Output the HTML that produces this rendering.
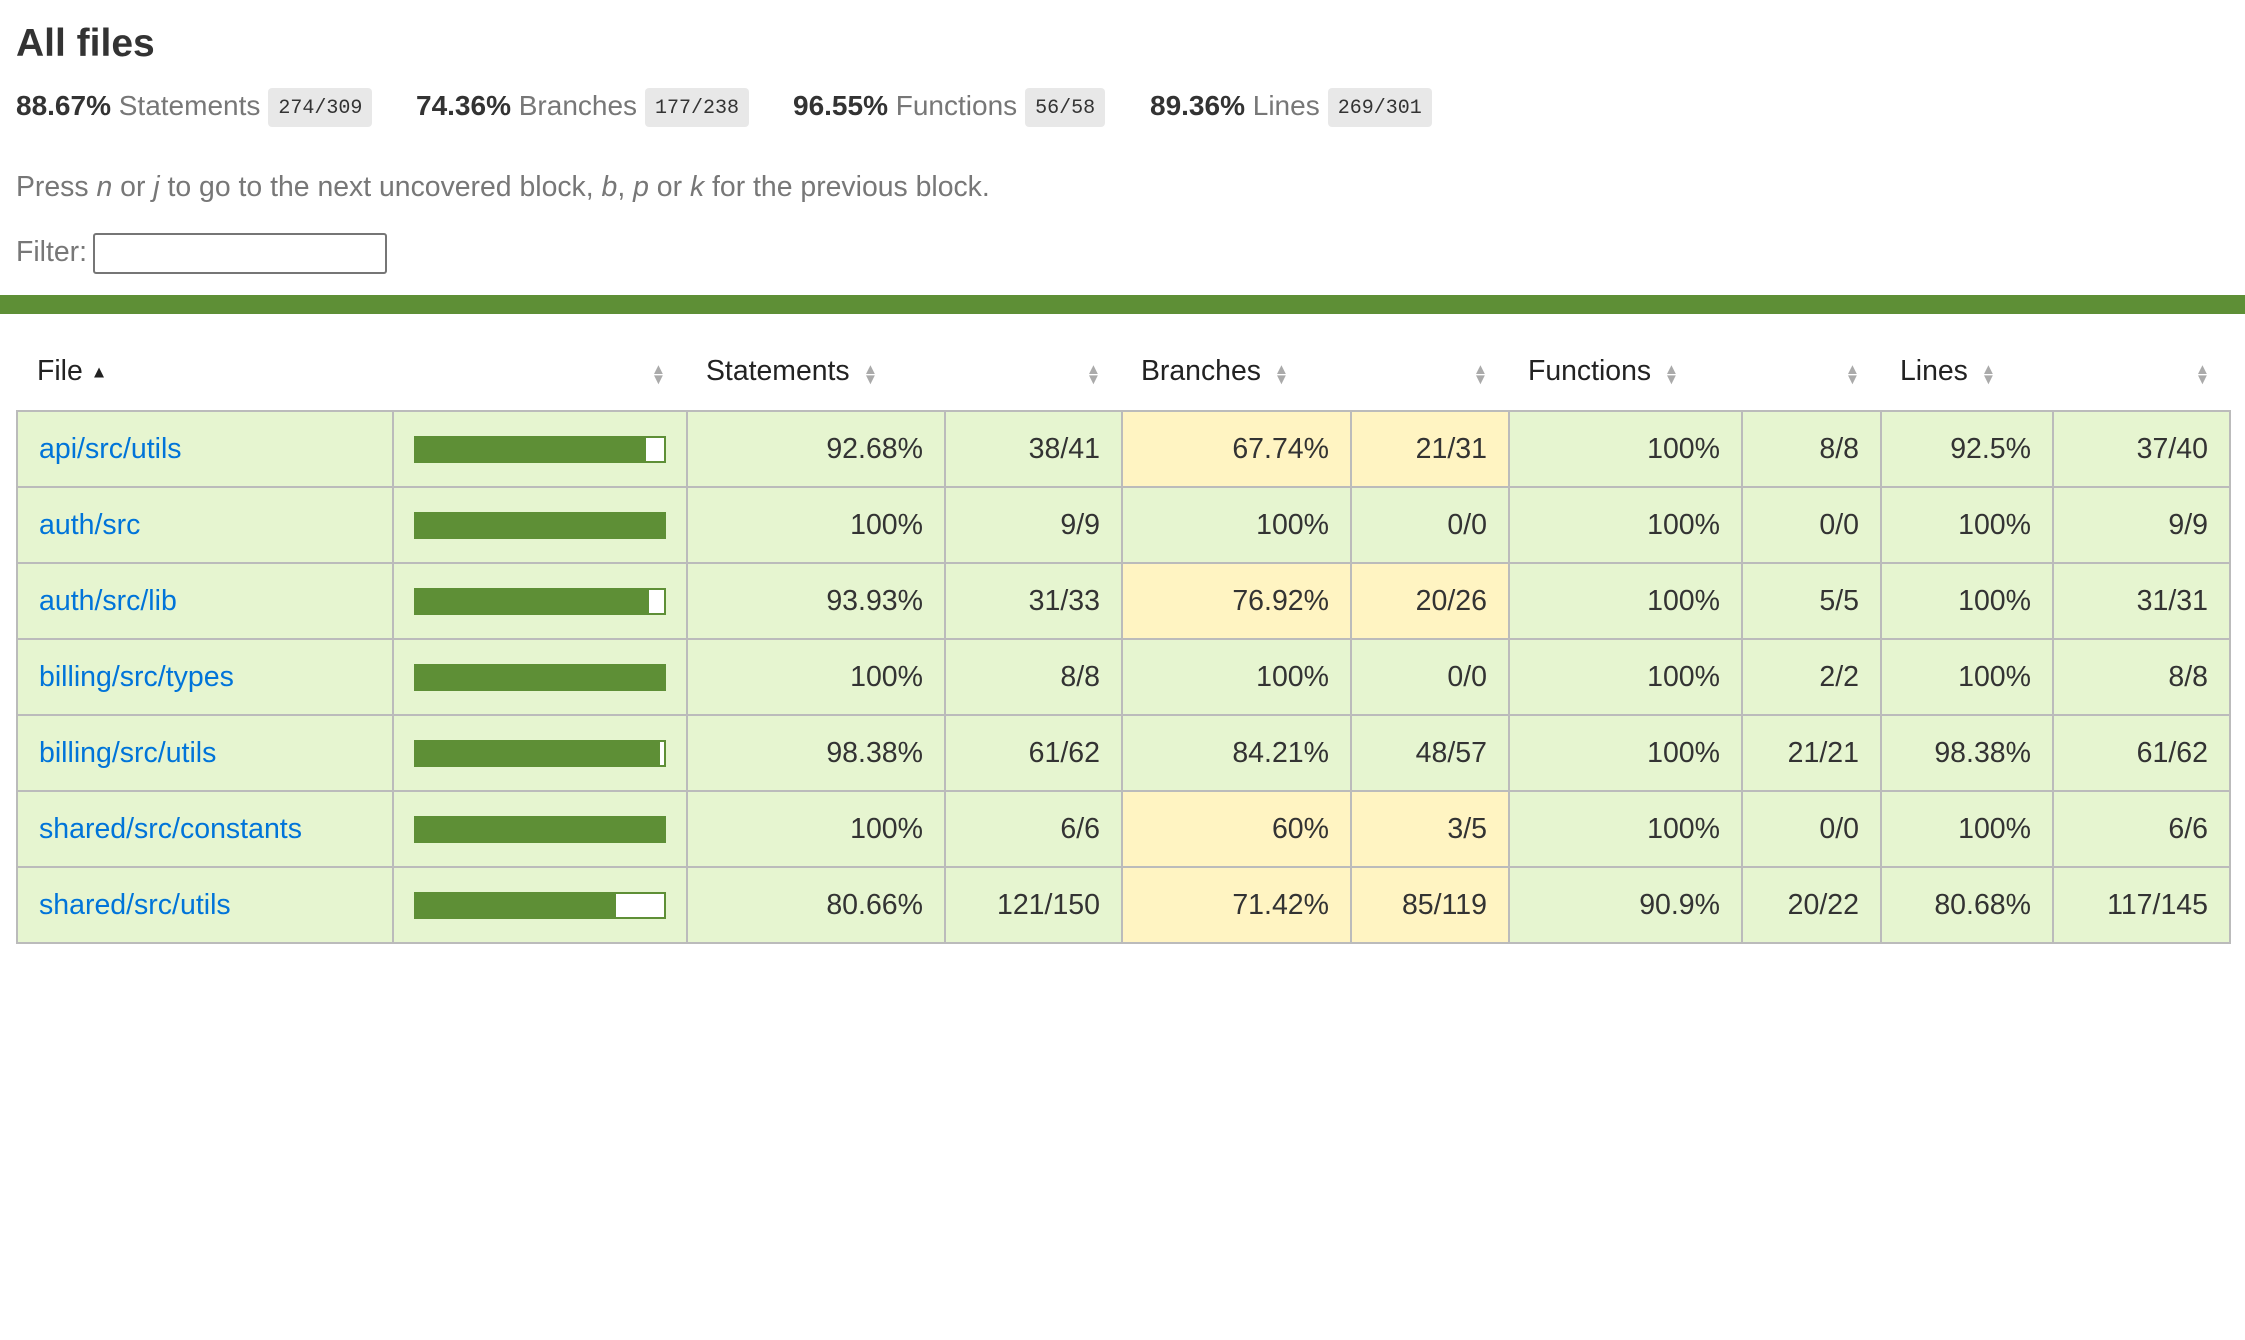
<!DOCTYPE html>
<html><head><meta charset="utf-8">
<style>
body{margin:0;width:2245px;height:1340px;background:#fff;font-family:"Liberation Sans",Arial,sans-serif;color:#333;position:relative;overflow:hidden}
.a{position:absolute;white-space:nowrap}
h1{position:absolute;left:16px;top:22px;margin:0;font-size:39px;font-weight:bold;color:#333}
.sum{top:88px;font-size:28px;line-height:36px}
.sum b{color:#333}
.sum .l{color:#777}
.badge{display:inline-block;background:#e8e8e8;border-radius:4px;font-family:"Liberation Mono",monospace;font-size:20px;padding:0 10px;height:39px;line-height:41px;vertical-align:middle;margin-left:8px;color:#333}
.press{left:16px;top:171px;font-size:28.4px;color:#777}
.filt{left:16px;top:236px;font-size:28.4px;color:#777}
.inp{left:93px;top:233px;width:294px;height:41px;border:2px solid #767676;border-radius:3px;box-sizing:border-box}
.bar{left:0;top:295px;width:2245px;height:19px;background:#5e8f36}
.hd{top:355px;font-size:28.4px;color:#222}
.arr{font-size:15px;color:#aaa;line-height:10px;top:365px;text-align:center}
table{position:absolute;left:16px;top:410px;border-collapse:collapse;table-layout:fixed;font-size:28.5px}
td{height:76px;border:2px solid #bbb;background:#e6f5d0;text-align:right;padding:0 21px 0 0;box-sizing:border-box;color:#333}
td.y{background:#fff4c2}
td.f{text-align:left;padding-left:21px;color:#0074d9}
td.b{padding:0 20px}
.pb{width:252px;height:27px;border:2px solid #5e8f36;box-sizing:border-box;background:#fff}
.pb div{height:100%;background:#5e8f36}
</style></head><body>
<h1>All files</h1>
<div class="a sum" style="left:16px"><b>88.67%</b> <span class="l">Statements</span><span class="badge">274/309</span></div>
<div class="a sum" style="left:416px"><b>74.36%</b> <span class="l">Branches</span><span class="badge">177/238</span></div>
<div class="a sum" style="left:793px"><b>96.55%</b> <span class="l">Functions</span><span class="badge">56/58</span></div>
<div class="a sum" style="left:1150px"><b>89.36%</b> <span class="l">Lines</span><span class="badge">269/301</span></div>
<div class="a press">Press <i>n</i> or <i>j</i> to go to the next uncovered block, <i>b</i>, <i>p</i> or <i>k</i> for the previous block.</div>
<div class="a filt">Filter:</div>
<div class="a inp"></div>
<div class="a bar"></div>
<div class="a hd" style="left:37px">File <span style="font-size:17px;vertical-align:middle">▲</span></div>
<div class="a arr" style="left:651px">▲<br>▼</div>
<div class="a hd" style="left:706px">Statements</div>
<div class="a arr" style="left:863px">▲<br>▼</div>
<div class="a arr" style="left:1086px">▲<br>▼</div>
<div class="a hd" style="left:1141px">Branches</div>
<div class="a arr" style="left:1274px">▲<br>▼</div>
<div class="a arr" style="left:1473px">▲<br>▼</div>
<div class="a hd" style="left:1528px">Functions</div>
<div class="a arr" style="left:1664px">▲<br>▼</div>
<div class="a arr" style="left:1845px">▲<br>▼</div>
<div class="a hd" style="left:1900px">Lines</div>
<div class="a arr" style="left:1981px">▲<br>▼</div>
<div class="a arr" style="left:2195px">▲<br>▼</div>
<table>
<colgroup><col style="width:376px"><col style="width:294px"><col style="width:258px"><col style="width:177px"><col style="width:229px"><col style="width:158px"><col style="width:233px"><col style="width:139px"><col style="width:172px"><col style="width:177px"></colgroup>
<tr><td class="f">api/src/utils</td><td class="b"><div class="pb"><div style="width:92.68%"></div></div></td><td>92.68%</td><td>38/41</td><td class="y">67.74%</td><td class="y">21/31</td><td>100%</td><td>8/8</td><td>92.5%</td><td>37/40</td></tr>
<tr><td class="f">auth/src</td><td class="b"><div class="pb"><div style="width:100%"></div></div></td><td>100%</td><td>9/9</td><td>100%</td><td>0/0</td><td>100%</td><td>0/0</td><td>100%</td><td>9/9</td></tr>
<tr><td class="f">auth/src/lib</td><td class="b"><div class="pb"><div style="width:93.93%"></div></div></td><td>93.93%</td><td>31/33</td><td class="y">76.92%</td><td class="y">20/26</td><td>100%</td><td>5/5</td><td>100%</td><td>31/31</td></tr>
<tr><td class="f">billing/src/types</td><td class="b"><div class="pb"><div style="width:100%"></div></div></td><td>100%</td><td>8/8</td><td>100%</td><td>0/0</td><td>100%</td><td>2/2</td><td>100%</td><td>8/8</td></tr>
<tr><td class="f">billing/src/utils</td><td class="b"><div class="pb"><div style="width:98.38%"></div></div></td><td>98.38%</td><td>61/62</td><td>84.21%</td><td>48/57</td><td>100%</td><td>21/21</td><td>98.38%</td><td>61/62</td></tr>
<tr><td class="f">shared/src/constants</td><td class="b"><div class="pb"><div style="width:100%"></div></div></td><td>100%</td><td>6/6</td><td class="y">60%</td><td class="y">3/5</td><td>100%</td><td>0/0</td><td>100%</td><td>6/6</td></tr>
<tr><td class="f">shared/src/utils</td><td class="b"><div class="pb"><div style="width:80.66%"></div></div></td><td>80.66%</td><td>121/150</td><td class="y">71.42%</td><td class="y">85/119</td><td>90.9%</td><td>20/22</td><td>80.68%</td><td>117/145</td></tr>
</table>
</body></html>
